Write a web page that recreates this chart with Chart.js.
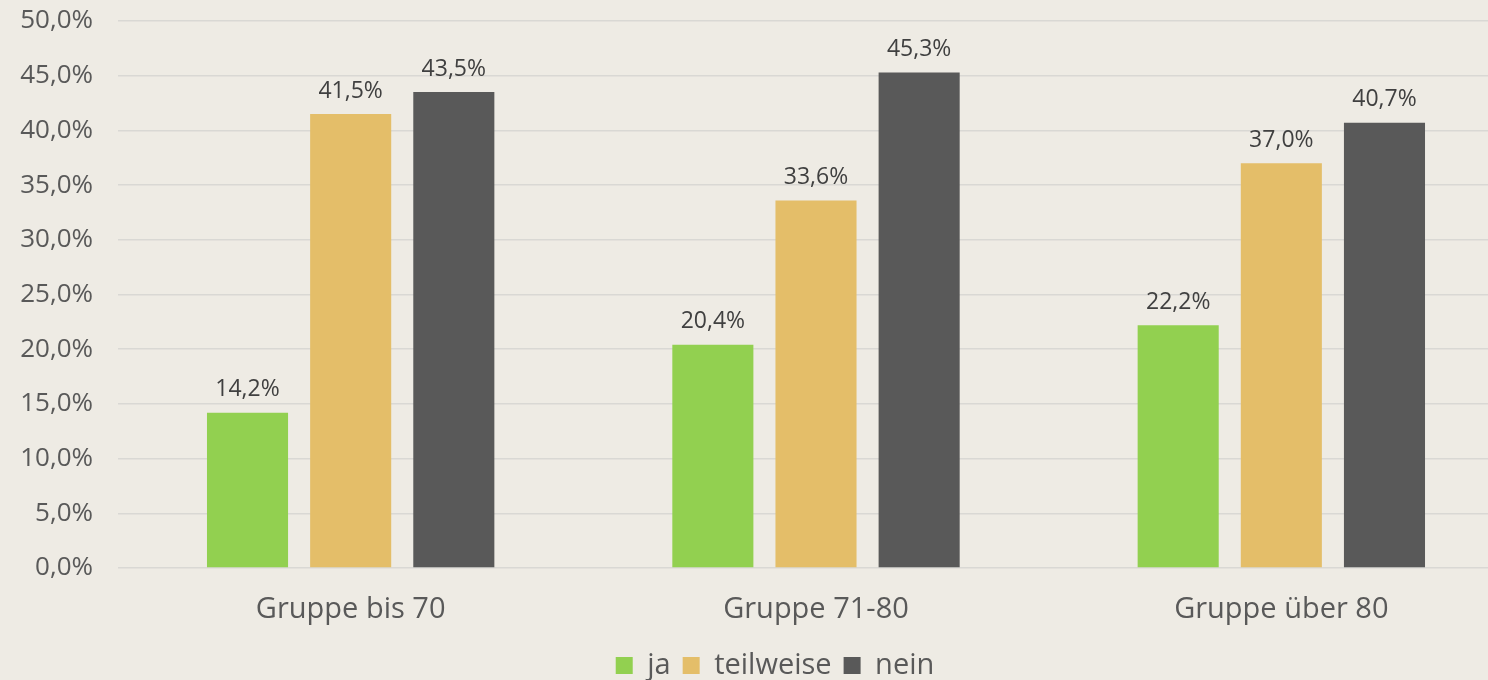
<!DOCTYPE html>
<html>
<head>
<meta charset="utf-8">
<script src="https://cdn.jsdelivr.net/npm/chart.js@4"></script>
<style>
  html, body { margin: 0; padding: 0; background: #EEEBE4; overflow: hidden; }
  #wrap { width: 1488px; height: 680px; overflow: hidden; position: relative; }
  #box { width: 1514px; height: 680px; position: absolute; left: 0; top: 0; }
</style>
</head>
<body>
<div id="wrap"><div id="box"><canvas id="c"></canvas></div></div>
<script>
const categories = ["Gruppe bis 70", "Gruppe 71-80", "Gruppe über 80"];
const seriesNames = ["ja", "teilweise", "nein"];
const jaValues = [14.2, 20.4, 22.2];
const teilweiseValues = [41.5, 33.6, 37.0];
const neinValues = [43.5, 45.3, 40.7];
const yTicks = [0, 5, 10, 15, 20, 25, 30, 35, 40, 45, 50];
const seriesColors = ["#92D050", "#E4BE69", "#595959"];

const fontFamily = "'Open Sans', 'DejaVu Sans', sans-serif";
const fmt = v => v.toFixed(1).replace('.', ',') + '%';

const dataLabels = {
  id: 'dataLabels',
  afterDatasetsDraw(chart) {
    const ctx = chart.ctx;
    ctx.save();
    ctx.font = `23px ${fontFamily}`;
    ctx.fillStyle = '#404040';
    ctx.textAlign = 'center';
    ctx.textBaseline = 'middle';
    chart.data.datasets.forEach((ds, i) => {
      const meta = chart.getDatasetMeta(i);
      meta.data.forEach((bar, j) => {
        ctx.fillText(fmt(ds.data[j]), bar.x, bar.y - 23);
      });
    });
    ctx.restore();
  }
};

const legendShift = {
  id: 'legendShift',
  afterLayout(chart) {
    const l = chart.legend;
    if (!l) return;
    l.left += 36;
    l.width -= 36;
    l.top += 10;
    l.bottom += 10;
  }
};

const allValues = [jaValues, teilweiseValues, neinValues];

new Chart(document.getElementById('c'), {
  type: 'bar',
  data: {
    labels: categories,
    datasets: seriesNames.map((name, i) => ({
      label: name,
      data: allValues[i],
      backgroundColor: seriesColors[i],
      borderWidth: 0,
      barPercentage: 0.786,
      categoryPercentage: 0.665
    }))
  },
  options: {
    responsive: true,
    maintainAspectRatio: false,
    animation: false,
    layout: { padding: { left: 0, right: 0, top: 21, bottom: 0 } },
    plugins: {
      tooltip: { enabled: false },
      legend: {
        position: 'bottom',
        labels: {
          font: { family: fontFamily, size: 29 },
          color: '#595959',
          boxWidth: 17,
          boxHeight: 17,
          padding: 12
        }
      }
    },
    scales: {
      x: {
        grid: { display: false },
        border: { display: false },
        afterFit(scale) { scale.height = 61; scale.paddingLeft = 0; scale.paddingRight = 0; },
        ticks: {
          font: { family: fontFamily, size: 29 },
          color: '#595959',
          padding: 16
        }
      },
      y: {
        min: 0,
        max: 50,
        afterBuildTicks(scale) { scale.ticks = yTicks.map(v => ({ value: v })); },
        afterFit(scale) { scale.width = 118; scale.paddingTop = 0; scale.paddingBottom = 0; },
        grid: { color: '#D9D8D4', lineWidth: 1.5, drawTicks: false },
        border: { display: false },
        ticks: {
          font: { family: fontFamily, size: 26 },
          color: '#595959',
          padding: 25,
          callback: v => fmt(v)
        }
      }
    }
  },
  plugins: [dataLabels, legendShift]
});
</script>
</body>
</html>
